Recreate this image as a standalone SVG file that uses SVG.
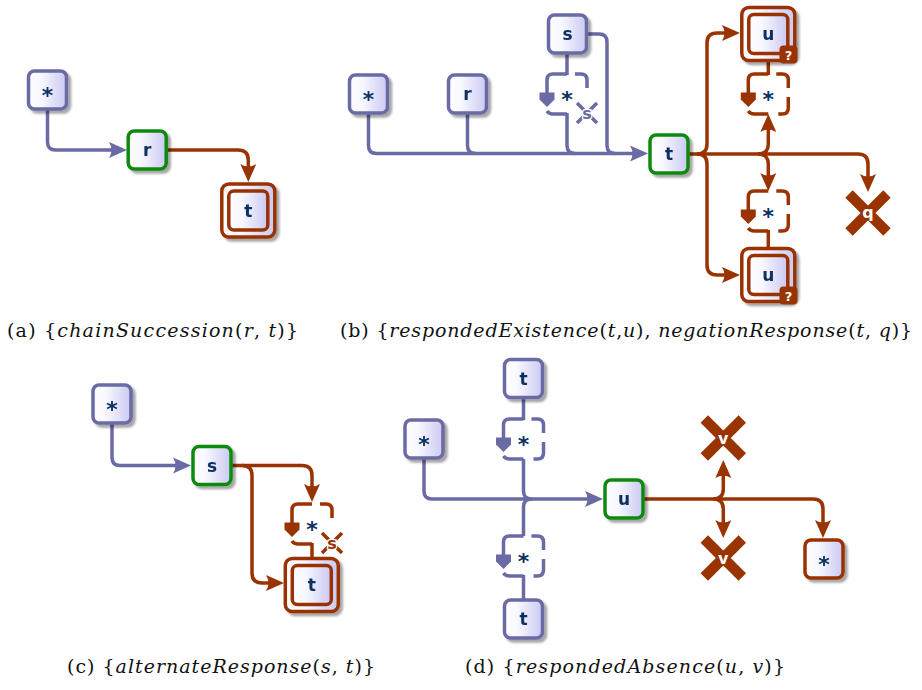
<svg xmlns="http://www.w3.org/2000/svg" xmlns:xlink="http://www.w3.org/1999/xlink" width="922" height="690" viewBox="0 0 922 690">
  <style>
    .nb { fill: url(#nf); stroke: #6a6aa4; stroke-width: 3.5; }
    .ng { fill: url(#nf); stroke: #0f8a0f; stroke-width: 3.5; }
    .nr { fill: url(#nf); stroke: #993300; stroke-width: 3.5; }
    .lbl { font-family: "DejaVu Sans", "Liberation Sans", sans-serif; font-weight: bold; font-size: 17px; fill: #0b3060; text-anchor: middle; }
    .ast { font-size: 22px; }
    .wl { font-family: "DejaVu Sans", "Liberation Sans", sans-serif; font-weight: bold; font-size: 16px; fill: #ffffff; text-anchor: middle; }
    .eb { fill: none; stroke: #6a6aa4; stroke-width: 3.5; stroke-linejoin: round; }
    .er { fill: none; stroke: #993300; stroke-width: 3.5; stroke-linejoin: round; }
    .ab { marker-end: url(#ahb); }
    .ar { marker-end: url(#ahr); }
    .cap { font-family: "DejaVu Serif", "Liberation Serif", serif; font-size: 19px; fill: #111; }
    .cap tspan.m { font-style: italic; }
    .xs { fill: none; stroke: currentColor; stroke-width: 3.5; }
    .xsl { font-family: "DejaVu Sans", sans-serif; font-weight: bold; font-size: 16px; fill: currentColor; stroke: #fff; stroke-width: 2.5; paint-order: stroke; text-anchor: middle; }
  </style>
  <defs>
    <linearGradient id="nf" x1="0" y1="0" x2="1" y2="0">
      <stop offset="0" stop-color="#ffffff"/>
      <stop offset="0.35" stop-color="#f7f7ff"/>
      <stop offset="1" stop-color="#c9c9f3"/>
    </linearGradient>
    <filter id="sh" x="-25%" y="-25%" width="160%" height="160%">
      <feDropShadow dx="3" dy="3" stdDeviation="1.2" flood-color="#000" flood-opacity="0.35"/>
    </filter>
    <marker id="ahb" markerUnits="userSpaceOnUse" viewBox="-14 -10 22 20" refX="0" refY="0" markerWidth="22" markerHeight="20" orient="auto">
      <path d="M6,0 L-12,-8 Q-7,0 -12,8 Z" fill="#6a6aa4"/>
    </marker>
    <marker id="ahr" markerUnits="userSpaceOnUse" viewBox="-14 -10 22 20" refX="0" refY="0" markerWidth="22" markerHeight="20" orient="auto">
      <path d="M6,0 L-12,-8 Q-7,0 -12,8 Z" fill="#993300"/>
    </marker>
    <!-- dashed "any activity" box: outline pieces and the loop arrow on its left side -->
    <g id="dn">
      <path d="M0,-20 H-14 Q-20,-20 -20,-14 V-1 M8,-20 H14 Q20,-20 20,-14 V-6 M-20,17 Q-18,20 -14,20 H0" fill="none" stroke="currentColor" stroke-width="3.5"/>
      <path d="M-27.5,-1.5 H-12.5 V5.5 L-20,13 L-27.5,5.5 Z" fill="currentColor"/>
    </g>
    <path id="dnc" d="M20,3 V14 Q20,20 14,20 H10" fill="none" stroke="currentColor" stroke-width="3.5"/>
    <!-- small crossed-out activity mark at the lower right corner -->
    <g id="xs">
      <path class="xs" d="M10,9 L30,29 M30,9 L10,29"/>
      <text class="xsl" x="20" y="25">s</text>
    </g>
    <path id="bigx" d="M-19,-19 L19,19 M19,-19 L-19,19" fill="none" stroke="#993300" stroke-width="10.5"/>
  </defs>

  <rect width="922" height="690" fill="#ffffff"/>

  <g id="edges">
    <!-- (a) -->
    <path class="eb ab" d="M47.5,108 V142 Q47.5,150 55.5,150 H121"/>
    <path class="er ar" d="M166,150 H238 Q248.3,150 248.3,160 V176"/>
    <!-- (b) -->
    <path class="eb ab" d="M368.5,112 V145.5 Q368.5,153.5 376.5,153.5 H642"/>
    <path class="eb" d="M467.5,112 V145.5 Q467.5,153.5 475.5,153.5"/>
    <path class="eb" d="M567,113 V145.5 Q567,153.5 575,153.5"/>
    <path class="eb" d="M567,52 V75"/>
    <path class="eb" d="M586,34 H599 Q607,34 607,42 V145.5 Q607,153.5 615,153.5"/>
    <path class="er ar" d="M688,154 H858 Q868,154 868,164 V186"/>
    <path class="er ar" d="M697,154 Q707,154 707,144 V43 Q707,33 717,33 H734"/>
    <path class="er ar" d="M697,154 Q707,154 707,164 V265 Q707,275 717,275 H734"/>
    <path class="er ar" d="M758,154 Q768.3,154 768.3,144 V120"/>
    <path class="er ar" d="M758,154 Q768.3,154 768.3,164 V185"/>
    <path class="er" d="M768.3,62 V75"/>
    <path class="er" d="M768.3,230 V248"/>
    <!-- (c) -->
    <path class="eb ab" d="M112,422 V457.5 Q112,465.5 120,465.5 H185"/>
    <path class="er ar" d="M231,465.5 H302 Q312,465.5 312,475.5 V496"/>
    <path class="er ar" d="M242,465.5 Q252,465.5 252,475.5 V573 Q252,583 262,583 H278"/>
    <path class="er" d="M312,543 V559"/>
    <!-- (d) -->
    <path class="eb ab" d="M424,457 V491 Q424,499 432,499 H597"/>
    <path class="eb" d="M523.5,459 V491 Q523.5,499 531.5,499"/>
    <path class="eb" d="M523.5,536 V507 Q523.5,499 531.5,499"/>
    <path class="eb" d="M523.5,396 V420"/>
    <path class="eb" d="M523.5,575 V601"/>
    <path class="er ar" d="M643,499 H813 Q823,499 823,509 V532"/>
    <path class="er ar" d="M713,499 Q723.3,499 723.3,489 V466"/>
    <path class="er ar" d="M713,499 Q723.3,499 723.3,509 V532"/>
  </g>

  <!-- (a) chainSuccession -->
  <g id="a-any" filter="url(#sh)"><rect class="nb" x="28.5" y="71" width="38" height="38" rx="6"/><text class="lbl ast" x="47.5" y="103">*</text></g>
  <g id="a-r" filter="url(#sh)"><rect class="ng" x="128.2" y="131" width="38" height="38" rx="6"/><text class="lbl" x="147.2" y="156">r</text></g>
  <g id="a-t" filter="url(#sh)"><rect class="nr" x="221.8" y="184" width="53" height="53" rx="7"/><rect class="nr" x="228.8" y="191" width="39" height="39" rx="5"/><text class="lbl" x="248.3" y="216.5">t</text></g>

  <!-- (b) respondedExistence / negationResponse -->
  <g id="b-any" filter="url(#sh)"><rect class="nb" x="349.5" y="75" width="38" height="38" rx="6"/><text class="lbl ast" x="368.5" y="107">*</text></g>
  <g id="b-r" filter="url(#sh)"><rect class="nb" x="448.5" y="75" width="38" height="38" rx="6"/><text class="lbl" x="467.5" y="100">r</text></g>
  <g id="b-s" filter="url(#sh)"><rect class="nb" x="548.5" y="15" width="38" height="38" rx="6"/><text class="lbl" x="567.5" y="40">s</text></g>
  <g id="b-wait" style="color:#6a6aa4" transform="translate(567,94)"><use xlink:href="#dn"/><use xlink:href="#xs"/><text class="lbl ast" x="0" y="13">*</text></g>
  <g id="b-t" filter="url(#sh)"><rect class="ng" x="650" y="135" width="38" height="38" rx="6"/><text class="lbl" x="669" y="160">t</text></g>
  <g id="b-u1">
    <g filter="url(#sh)"><rect class="nr" x="741.8" y="7.5" width="53" height="53" rx="7"/><rect class="nr" x="748.8" y="14.5" width="39" height="39" rx="5"/><text class="lbl" x="768.3" y="40">u</text></g>
    <rect x="779.5" y="45.5" width="18" height="18" rx="4" fill="#993300"/><text class="wl" x="788.5" y="59.5" style="font-size:13px">?</text>
  </g>
  <g id="b-wait1" style="color:#993300" transform="translate(768.3,94)"><use xlink:href="#dn"/><use xlink:href="#dnc"/><text class="lbl ast" x="0" y="13">*</text></g>
  <g id="b-wait2" style="color:#993300" transform="translate(768.3,211)"><use xlink:href="#dn"/><use xlink:href="#dnc"/><text class="lbl ast" x="0" y="13">*</text></g>
  <g id="b-u2">
    <g filter="url(#sh)"><rect class="nr" x="741.8" y="248.5" width="53" height="53" rx="7"/><rect class="nr" x="748.8" y="255.5" width="39" height="39" rx="5"/><text class="lbl" x="768.3" y="281">u</text></g>
    <rect x="779.5" y="286.5" width="18" height="18" rx="4" fill="#993300"/><text class="wl" x="788.5" y="300.5" style="font-size:13px">?</text>
  </g>
  <g id="b-q" transform="translate(868,213)"><use xlink:href="#bigx"/><text class="wl" x="0" y="5">q</text></g>

  <!-- (c) alternateResponse -->
  <g id="c-any" filter="url(#sh)"><rect class="nb" x="93" y="385" width="38" height="38" rx="6"/><text class="lbl ast" x="112" y="417">*</text></g>
  <g id="c-s" filter="url(#sh)"><rect class="ng" x="193" y="446.5" width="38" height="38" rx="6"/><text class="lbl" x="212" y="471.5">s</text></g>
  <g id="c-wait" style="color:#993300" transform="translate(312,524)"><use xlink:href="#dn"/><use xlink:href="#xs"/><text class="lbl ast" x="0" y="13">*</text></g>
  <g id="c-t" filter="url(#sh)"><rect class="nr" x="285.3" y="558.5" width="53" height="53" rx="7"/><rect class="nr" x="292.3" y="565.5" width="39" height="39" rx="5"/><text class="lbl" x="311.8" y="591">t</text></g>

  <!-- (d) respondedAbsence -->
  <g id="d-t1" filter="url(#sh)"><rect class="nb" x="504.5" y="359.5" width="38" height="38" rx="6"/><text class="lbl" x="523.5" y="384.5">t</text></g>
  <g id="d-wait1" style="color:#6a6aa4" transform="translate(523.5,439)"><use xlink:href="#dn"/><use xlink:href="#dnc"/><text class="lbl ast" x="0" y="13">*</text></g>
  <g id="d-any" filter="url(#sh)"><rect class="nb" x="405" y="420" width="38" height="38" rx="6"/><text class="lbl ast" x="424" y="452">*</text></g>
  <g id="d-u" filter="url(#sh)"><rect class="ng" x="605" y="480" width="38" height="38" rx="6"/><text class="lbl" x="624" y="505">u</text></g>
  <g id="d-wait2" style="color:#6a6aa4" transform="translate(523.5,556)"><use xlink:href="#dn"/><use xlink:href="#dnc"/><text class="lbl ast" x="0" y="13">*</text></g>
  <g id="d-t2" filter="url(#sh)"><rect class="nb" x="504.5" y="600" width="38" height="38" rx="6"/><text class="lbl" x="523.5" y="625">t</text></g>
  <g id="d-v1" transform="translate(723.3,438)"><use xlink:href="#bigx"/><text class="wl" x="0" y="6">v</text></g>
  <g id="d-v2" transform="translate(723.3,558)"><use xlink:href="#bigx"/><text class="wl" x="0" y="6">v</text></g>
  <g id="d-any2" filter="url(#sh)"><rect class="nr" x="805" y="540" width="38" height="38" rx="6"/><text class="lbl ast" x="824" y="572">*</text></g>

  <!-- captions -->
  <g id="captions">
    <text class="cap" x="7" y="337" textLength="291">(a) {<tspan class="m">chainSuccession</tspan>(<tspan class="m">r</tspan>, <tspan class="m">t</tspan>)}</text>
    <text class="cap" x="340" y="337" textLength="572">(b) {<tspan class="m">respondedExistence</tspan>(<tspan class="m">t</tspan>,<tspan class="m">u</tspan>), <tspan class="m">negationResponse</tspan>(<tspan class="m">t</tspan>, <tspan class="m">q</tspan>)}</text>
    <text class="cap" x="67" y="673" textLength="308">(c) {<tspan class="m">alternateResponse</tspan>(<tspan class="m">s</tspan>, <tspan class="m">t</tspan>)}</text>
    <text class="cap" x="465" y="673" textLength="320">(d) {<tspan class="m">respondedAbsence</tspan>(<tspan class="m">u</tspan>, <tspan class="m">v</tspan>)}</text>
  </g>
</svg>
